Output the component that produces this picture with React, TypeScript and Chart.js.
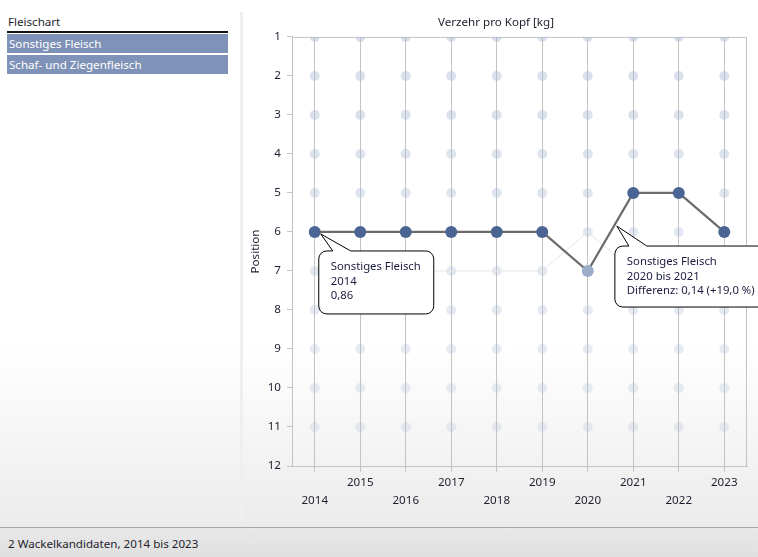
import React, { useEffect, useRef } from "react";
import { Chart, registerables } from "chart.js";

Chart.register(...registerables);

const years = ["2014", "2015", "2016", "2017", "2018", "2019", "2020", "2021", "2022", "2023"];
const gridPositions = [1, 2, 3, 4, 5, 6, 7, 8, 9, 10, 11];
const sonstigesFleisch = [6, 6, 6, 6, 6, 6, 7, 5, 5, 6];
const schafZiegenfleisch = [7, 7, 7, 7, 7, 7, 6, 7, 7, 7];
const dimmedYears = ["2020"];
const seriesNames = ["Sonstiges Fleisch", "Schaf- und Ziegenfleisch"];
const callout1Lines = ["Sonstiges Fleisch", "2014", "0,86"];
const callout2Lines = ["Sonstiges Fleisch", "2020 bis 2021", "Differenz: 0,14 (+19,0 %)"];
const chartTitle = "Verzehr pro Kopf [kg]";
const yTitle = "Position";
const panelTitle = "Fleischart";
const statusText = "2 Wackelkandidaten, 2014 bis 2023";

const FONT = "'Noto Sans', 'Open Sans', sans-serif";
const FS = 11.6;
const TEXT = "#1e1e2e";
const GRID = "#c4c4c4";

function drawCallout(ctx: CanvasRenderingContext2D, tipX: number, tipY: number, left: number, top: number, w: number, h: number, lines: string[]) {
  const r = 8;
  const b1 = left + 14;
  const b2 = left + 32;
  ctx.save();
  ctx.beginPath();
  ctx.moveTo(left + r, top);
  ctx.lineTo(b1, top);
  ctx.lineTo(tipX, tipY);
  ctx.lineTo(b2, top);
  ctx.lineTo(left + w - r, top);
  ctx.arcTo(left + w, top, left + w, top + r, r);
  ctx.lineTo(left + w, top + h - r);
  ctx.arcTo(left + w, top + h, left + w - r, top + h, r);
  ctx.lineTo(left + r, top + h);
  ctx.arcTo(left, top + h, left, top + h - r, r);
  ctx.lineTo(left, top + r);
  ctx.arcTo(left, top, left + r, top, r);
  ctx.closePath();
  ctx.fillStyle = "#ffffff";
  ctx.fill();
  ctx.lineWidth = 1;
  ctx.strokeStyle = "#000000";
  ctx.stroke();
  ctx.fillStyle = "#1c1c40";
  ctx.font = "11.3px " + FONT;
  ctx.textBaseline = "middle";
  ctx.textAlign = "left";
  lines.forEach((t, i) => ctx.fillText(t, left + 12, top + 16 + i * 14.5));
  ctx.restore();
}

const overlayPlugin = {
  id: "overlay",
  beforeDatasetsDraw(chart: any) {
    const { ctx, chartArea } = chart;
    ctx.save();
    ctx.strokeStyle = GRID;
    ctx.lineWidth = 1;
    ctx.beginPath();
    ctx.moveTo(chartArea.left, chartArea.top + 0.5);
    ctx.lineTo(chartArea.right, chartArea.top + 0.5);
    ctx.moveTo(chartArea.right - 0.5, chartArea.top);
    ctx.lineTo(chartArea.right - 0.5, chartArea.bottom);
    ctx.stroke();
    ctx.restore();
  },
  afterDatasetsDraw(chart: any) {
    const { ctx } = chart;
    const xs = chart.scales.x;
    const ys = chart.scales.y;
    const p0x = xs.getPixelForValue(0);
    const p0y = ys.getPixelForValue(sonstigesFleisch[0]);
    drawCallout(ctx, p0x + 6, p0y + 2, p0x + 4, p0y + 19, 115, 63, callout1Lines);
    const ax = xs.getPixelForValue(6) + 0.64 * (xs.getPixelForValue(7) - xs.getPixelForValue(6));
    const ay = ys.getPixelForValue(sonstigesFleisch[6]) + 0.64 * (ys.getPixelForValue(sonstigesFleisch[7]) - ys.getPixelForValue(sonstigesFleisch[6]));
    drawCallout(ctx, ax, ay + 5, ax - 2, ay + 25, 170, 61, callout2Lines);
  },
};

function dotColor(ctx: any) {
  const y = ctx.raw && typeof ctx.raw.y === "number" ? ctx.raw.y : 1;
  const a = 0.46 - ((y - 1) / 10) * 0.22;
  return `rgba(170,185,212,${a.toFixed(3)})`;
}

function ChartView() {
  const ref = useRef<HTMLCanvasElement | null>(null);
  useEffect(() => {
    if (!ref.current) return;
    const bgDots: { x: string; y: number }[] = [];
    years.forEach((yr) => gridPositions.forEach((p) => bgDots.push({ x: yr, y: p })));
    const mainColors = years.map((y) => (dimmedYears.includes(y) ? "#9cadca" : "#4a6594"));
    const chart = new Chart(ref.current, {
      type: "line",
      data: {
        labels: years,
        datasets: [
          {
            label: seriesNames[0],
            data: sonstigesFleisch,
            borderColor: "#6b6b6b",
            borderWidth: 2.2,
            pointRadius: 6,
            pointBorderWidth: 0,
            pointBackgroundColor: mainColors,
            pointBorderColor: mainColors,
            order: 1,
          },
          {
            label: seriesNames[1],
            data: schafZiegenfleisch,
            borderColor: "#e6e6e6",
            borderWidth: 1,
            pointRadius: 0,
            order: 2,
          },
          {
            label: "grid",
            data: bgDots as any,
            showLine: false,
            pointRadius: 5,
            pointBorderWidth: 0,
            pointBackgroundColor: dotColor as any,
            pointBorderColor: "rgba(0,0,0,0)",
            order: 3,
          },
        ],
      },
      options: {
        animation: false,
        responsive: true,
        maintainAspectRatio: false,
        layout: { padding: { left: 0, right: 11, top: 0, bottom: 0 } },
        plugins: {
          legend: { display: false },
          tooltip: { enabled: false },
          title: {
            display: true,
            text: chartTitle,
            color: TEXT,
            font: { family: FONT, size: FS, weight: "normal" as any },
            padding: { top: 8, bottom: 7 },
          },
        },
        scales: {
          x: {
            type: "category",
            offset: true,
            grid: { color: GRID, offset: false, drawTicks: true, tickLength: 6, tickColor: GRID },
            border: { color: GRID },
            ticks: {
              autoSkip: false,
              maxRotation: 0,
              padding: 1,
              color: TEXT,
              font: { family: FONT, size: FS, lineHeight: 1.6 },
              callback: (_v: any, i: number) => (i % 2 === 0 ? ["", years[i]] : [years[i], ""]),
            },
            afterFit: (s: any) => {
              s.height = 54;
            },
          },
          y: {
            type: "linear",
            reverse: true,
            min: 1,
            max: 12,
            grid: { drawOnChartArea: false, drawTicks: true, tickLength: 5, color: GRID },
            border: { color: GRID },
            ticks: {
              stepSize: 1,
              padding: 6,
              color: TEXT,
              font: { family: FONT, size: FS },
            },
            title: {
              display: true,
              text: yTitle,
              color: TEXT,
              font: { family: FONT, size: FS },
              padding: { top: 4, bottom: 0 },
            },
            afterFit: (s: any) => {
              s.width = 47;
            },
          },
        },
      },
      plugins: [overlayPlugin],
    });
    return () => chart.destroy();
  }, []);
  return <canvas ref={ref} />;
}

export default function App() {
  return (
    <div
      style={{
        position: "fixed",
        left: 0,
        top: 0,
        width: 758,
        height: 557,
        overflow: "hidden",
        fontFamily: FONT,
        fontSize: FS,
        color: TEXT,
        background: "linear-gradient(to bottom, #ffffff 0%, #ffffff 62%, #ebebeb 95%)",
      }}
    >
      <div style={{ position: "absolute", left: 8, top: 13, lineHeight: "17px" }}>{panelTitle}</div>
      <div style={{ position: "absolute", left: 7, top: 31, width: 221, height: 2, background: "#111" }} />
      {seriesNames.map((n, i) => (
        <div
          key={n}
          style={{
            position: "absolute",
            left: 7,
            top: 34 + i * 21,
            width: 221,
            height: 19,
            background: "#7f92b7",
            color: "#ffffff",
            lineHeight: "19px",
            paddingLeft: 2,
            boxSizing: "border-box",
          }}
        >
          {n}
        </div>
      ))}
      <div style={{ position: "absolute", left: 240, top: 12, width: 3, height: 510, background: "#efefef" }} />
      <div style={{ position: "absolute", left: 245, top: 8, width: 513, height: 512 }}>
        <ChartView />
      </div>
      <div style={{ position: "absolute", left: 0, top: 527, width: 758, height: 30, background: "linear-gradient(to bottom, #e9e9e9, #e0e0e0)" }} />
      <div style={{ position: "absolute", left: 0, top: 527, width: 758, height: 1, background: "#a8a8a8" }} />
      <div style={{ position: "absolute", left: 8, top: 535, lineHeight: "17px" }}>{statusText}</div>
    </div>
  );
}
